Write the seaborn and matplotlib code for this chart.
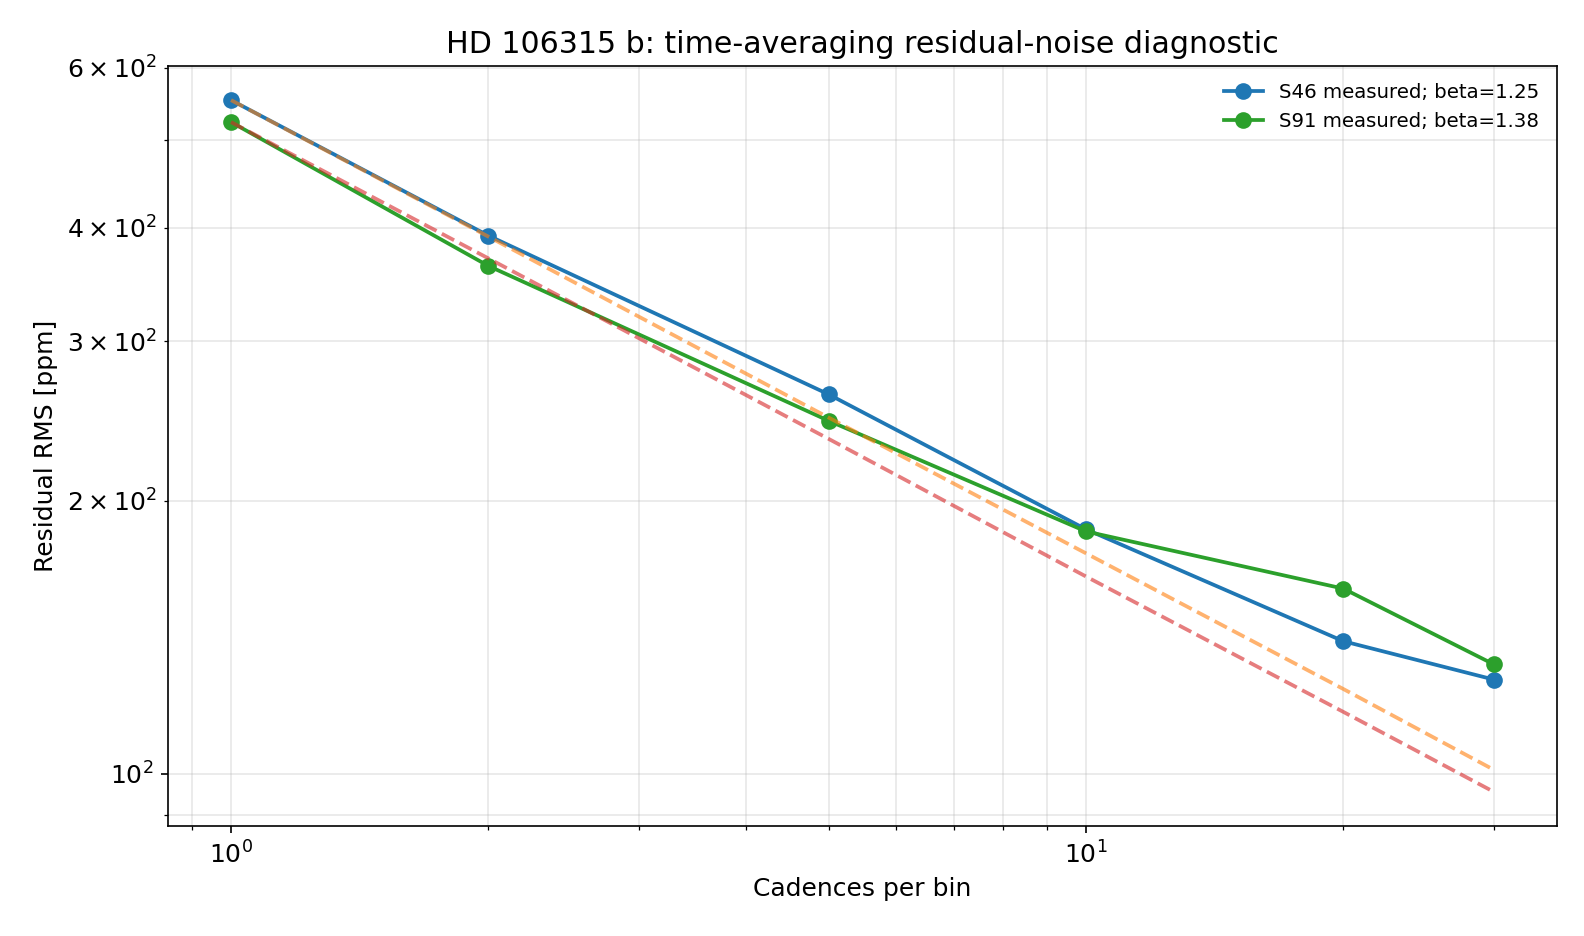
import numpy as np
import pandas as pd
import seaborn as sns
import matplotlib.pyplot as plt

cadences = [1, 2, 5, 10, 20, 30]
rms_s46 = [553, 392, 262, 186, 140, 127]
rms_s91 = [523, 363, 245, 185, 160, 132]
# white-noise expectation lines
white_s46 = [553, 391, 247, 175, 124, 101]
white_s91 = [523, 370, 234, 165, 117, 95.5]
labels = ['S46 measured; beta=1.25', 'S91 measured; beta=1.38']

df = pd.DataFrame({
    'n': cadences * 2,
    'rms': rms_s46 + rms_s91,
    'series': [labels[0]] * 6 + [labels[1]] * 6,
})

plt.rcParams['font.size'] = 12
fig, ax = plt.subplots(figsize=(10.56, 6.24), dpi=150)

sns.lineplot(data=df, x='n', y='rms', hue='series', marker='o',
             palette=['tab:blue', 'tab:green'], markersize=8,
             markeredgewidth=0, linewidth=1.8, ax=ax)
sns.lineplot(x=cadences, y=white_s46, color='tab:orange', alpha=0.6,
             linestyle='--', linewidth=1.8, ax=ax, legend=False)
sns.lineplot(x=cadences, y=white_s91, color='tab:red', alpha=0.6,
             linestyle='--', linewidth=1.8, ax=ax, legend=False)

ax.set_xscale('log')
ax.set_yscale('log')
ax.grid(True, which='both', alpha=0.3)
ax.set_xlabel('Cadences per bin')
ax.set_ylabel('Residual RMS [ppm]')
ax.set_title('HD 106315 b: time-averaging residual-noise diagnostic')

handles, labs = ax.get_legend_handles_labels()
ax.legend(handles[:2], labs[:2], loc='upper right', frameon=False, fontsize=9.5)

fig.subplots_adjust(left=0.106, right=0.983, top=0.930, bottom=0.117)
plt.savefig('out.png')
